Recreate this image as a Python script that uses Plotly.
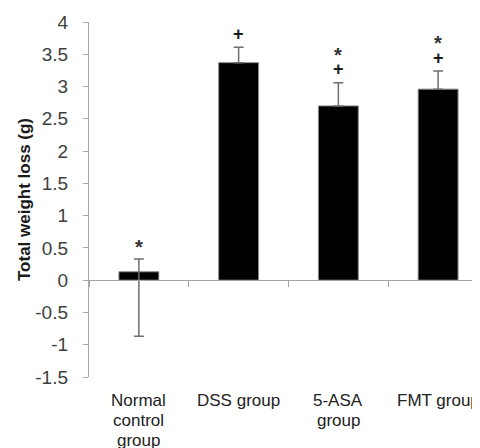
import plotly.graph_objects as go

# ---- data ----
categories = ["Normal control group", "DSS group", "5-ASA group", "FMT group"]
category_label_lines = [["Normal", "control", "group"], ["DSS group"], ["5-ASA", "group"], ["FMT group"]]
weight_loss = [0.13, 3.37, 2.70, 2.96]
err_plus = [0.20, 0.24, 0.36, 0.28]
err_minus = [1.00, 0.0, 0.0, 0.0]
has_star = [True, False, True, True]
has_plus = [False, True, True, True]
y_tickvals = [-1.5, -1, -0.5, 0, 0.5, 1, 1.5, 2, 2.5, 3, 3.5, 4]
y_ticktext = ["-1.5", "-1", "-0.5", "0", "0.5", "1", "1.5", "2", "2.5", "3", "3.5", "4"]

Y_MIN, Y_MAX = -1.5, 4

fig = go.Figure()
fig.add_trace(go.Bar(
    x=categories, y=weight_loss, width=0.4,
    marker=dict(color="#000000", line=dict(color="#8a8a8a", width=1)),
    error_y=dict(type="data", symmetric=False, array=err_plus, arrayminus=err_minus,
                 color="#6e6e6e", thickness=1.5, width=5),
    showlegend=False, hoverinfo="skip",
))

# significance markers placed above error bars
annotations = []
for cat, v, ep, s, p in zip(categories, weight_loss, err_plus, has_star, has_plus):
    top = v + ep
    if p:
        plus_y = top + 0.21
        annotations.append(dict(x=cat, y=plus_y, xref="x", yref="y", text="<b>+</b>",
                                showarrow=False, font=dict(size=18, color="#1a1a1a", family="Arial"),
                                yanchor="middle"))
        star_y = plus_y + 0.28
    else:
        star_y = top + 0.24
    if s:
        annotations.append(dict(x=cat, y=star_y, xref="x", yref="y", text="<b>*</b>",
                                showarrow=False, font=dict(size=20, color="#333333", family="Arial"),
                                yanchor="middle", yshift=-4))

# category labels below the plot, one annotation per line
for cat, lines in zip(categories, category_label_lines):
    for i, line in enumerate(lines):
        annotations.append(dict(x=cat, y=0, xref="x", yref="paper", text=line, showarrow=False,
                                yanchor="top", xanchor="center", yshift=-12 - 20 * i,
                                font=dict(size=17, color="#222222", family="Arial")))

fig.update_layout(
    width=472, height=440,
    margin=dict(l=81, r=0, t=14, b=71, autoexpand=False),
    paper_bgcolor="white", plot_bgcolor="white",
    annotations=annotations,
    xaxis=dict(type="category", range=[-0.5, 3.42], anchor="free",
               position=(0 - Y_MIN) / (Y_MAX - Y_MIN),
               showline=True, linecolor="#a6a6a6", linewidth=1.3,
               ticks="outside", tickson="boundaries", ticklen=6, tickcolor="#a6a6a6",
               showticklabels=False, showgrid=False, zeroline=False, automargin=False),
    yaxis=dict(range=[Y_MIN, Y_MAX], tickvals=y_tickvals, ticktext=y_ticktext,
               showline=True, linecolor="#a6a6a6", linewidth=1.3,
               ticks="outside", ticklen=5, tickcolor="#a6a6a6",
               ticklabelstandoff=11,
               tickfont=dict(size=19, color="#404040", family="Arial"),
               showgrid=False, zeroline=False, automargin=False,
               title=dict(text="<b>Total weight loss (g)</b>", standoff=0,
                          font=dict(size=17, color="#1a1a1a", family="Arial"))),
)

fig.write_html("out.html")
